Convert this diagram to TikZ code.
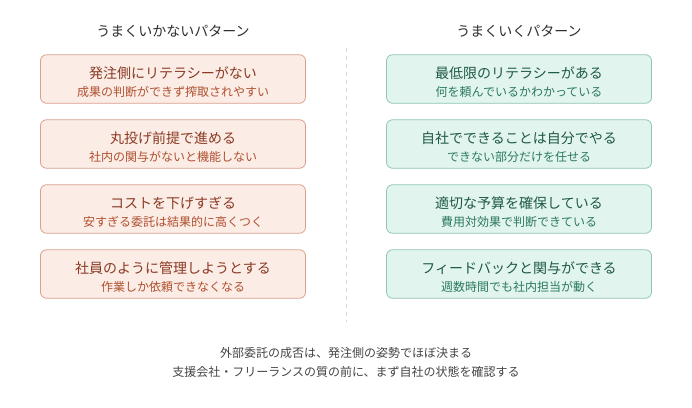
\documentclass[tikz,border=0pt]{standalone}
\usepackage{fontspec}
\setmainfont{Noto Sans CJK JP}
\definecolor{badfill}{HTML}{FBECE6}
\definecolor{baddraw}{HTML}{D9A08D}
\definecolor{badtitle}{HTML}{8A3A22}
\definecolor{badsub}{HTML}{B0502F}
\definecolor{goodfill}{HTML}{E2F4EE}
\definecolor{gooddraw}{HTML}{8FC6B2}
\definecolor{goodtitle}{HTML}{1E5A45}
\definecolor{goodsub}{HTML}{2B7A5E}
\definecolor{headtext}{HTML}{2E2E2E}
\definecolor{foottext}{HTML}{444444}
\definecolor{divider}{HTML}{D8D8D8}
\tikzset{
  box/.style={rounded corners=6pt, line width=0.8pt, minimum width=265pt, minimum height=48.5pt, inner sep=0pt},
  badbox/.style={box, draw=baddraw, fill=badfill},
  goodbox/.style={box, draw=gooddraw, fill=goodfill},
  ttl/.style={font=\fontsize{14}{16}\selectfont, inner sep=0pt, anchor=center},
  sub/.style={font=\fontsize{12}{14}\selectfont, inner sep=0pt, anchor=center},
  head/.style={font=\fontsize{14}{16}\selectfont, text=headtext, inner sep=0pt},
  foot/.style={font=\fontsize{12}{14}\selectfont, text=foottext, inner sep=0pt},
}
\begin{document}
\begin{tikzpicture}[x=1pt,y=-1pt]
\useasboundingbox (0,0) rectangle (692,407);
\node[head] (hl) at (173,31.5) {うまくいかないパターン};
\node[head] (hr) at (519,31.5) {うまくいくパターン};
\coordinate (dtop) at (346,48);
\coordinate (dbot) at (346,322);
\draw[divider, line width=1pt, dash pattern=on 4pt off 4pt] (dtop) -- (dbot);
% left boxes
\node[badbox] (b1) at (173,79) {};
\node[ttl, text=badtitle] (b1t) at (173,73) {発注側にリテラシーがない};
\node[sub, text=badsub] (b1s) at (173,91.5) {成果の判断ができず搾取されやすい};
\node[badbox] (b2) at (173,144) {};
\node[ttl, text=badtitle] (b2t) at (173,138) {丸投げ前提で進める};
\node[sub, text=badsub] (b2s) at (173,156.5) {社内の関与がないと機能しない};
\node[badbox] (b3) at (173,209) {};
\node[ttl, text=badtitle] (b3t) at (173,203) {コストを下げすぎる};
\node[sub, text=badsub] (b3s) at (173,221.5) {安すぎる委託は結果的に高くつく};
\node[badbox] (b4) at (173,274) {};
\node[ttl, text=badtitle] (b4t) at (173,268) {社員のように管理しようとする};
\node[sub, text=badsub] (b4s) at (173,286.5) {作業しか依頼できなくなる};
% right boxes
\node[goodbox] (g1) at (519,79) {};
\node[ttl, text=goodtitle] (g1t) at (519,73) {最低限のリテラシーがある};
\node[sub, text=goodsub] (g1s) at (519,91.5) {何を頼んでいるかわかっている};
\node[goodbox] (g2) at (519,144) {};
\node[ttl, text=goodtitle] (g2t) at (519,138) {自社でできることは自分でやる};
\node[sub, text=goodsub] (g2s) at (519,156.5) {できない部分だけを任せる};
\node[goodbox] (g3) at (519,209) {};
\node[ttl, text=goodtitle] (g3t) at (519,203) {適切な予算を確保している};
\node[sub, text=goodsub] (g3s) at (519,221.5) {費用対効果で判断できている};
\node[goodbox] (g4) at (519,274) {};
\node[ttl, text=goodtitle] (g4t) at (519,268) {フィードバックと関与ができる};
\node[sub, text=goodsub] (g4s) at (519,286.5) {週数時間でも社内担当が動く};
% footer
\node[foot] (f1) at (346,352.5) {外部委託の成否は、発注側の姿勢でほぼ決まる};
\node[foot] (f2) at (346,371.5) {支援会社・フリーランスの質の前に、まず自社の状態を確認する};
\end{tikzpicture}
\end{document}
